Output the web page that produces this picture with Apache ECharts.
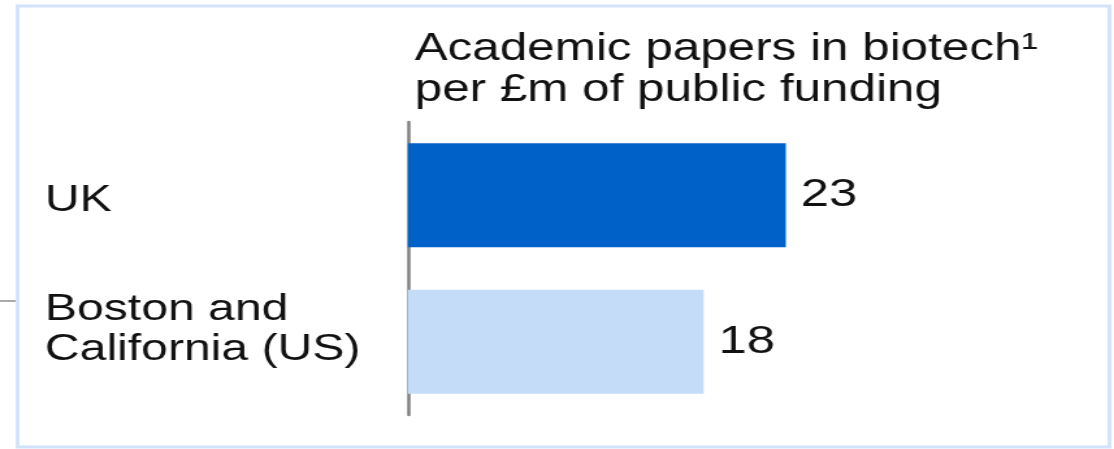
<!DOCTYPE html>
<html>
<head>
<meta charset="utf-8">
<script src="https://cdn.jsdelivr.net/npm/echarts@6/dist/echarts.min.js"></script>
<style>
html,body{margin:0;padding:0;background:#fff;overflow:hidden;}
#wrap{width:1114px;height:449px;overflow:hidden;}
#chart{width:857px;height:449px;transform:scaleX(1.2999);transform-origin:0 0;}
</style>
</head>
<body>
<div id="wrap"><div id="chart"></div></div>
<script>
const categories = ['UK', 'Boston and\nCalifornia (US)'];
const values = [23, 18];
const barColors = ['#0061c9', '#c4dcf8'];
const titleLines = ['Academic papers in biotech\u00b9', 'per \u00a3m of public funding'];

const chart = echarts.init(document.getElementById('chart'));
const FONT = '"Liberation Sans", Arial, sans-serif';
const labelStyle = { align: 'left', fontFamily: FONT, fontSize: 37, color: '#111', lineHeight: 40 };
chart.setOption({
  animation: false,
  backgroundColor: '#ffffff',
  title: {
    text: titleLines.join('\n'),
    left: 319,
    top: 29,
    padding: 0,
    textStyle: { fontFamily: FONT, fontSize: 38, fontWeight: 'normal', color: '#111', lineHeight: 41 }
  },
  graphic: [
    { type: 'rect', shape: { x: 13.5, y: 6, width: 840, height: 441 },
      style: { fill: 'none', stroke: '#d2e3fb', lineWidth: 3 }, z: -1 },
    { type: 'line', shape: { x1: 0, y1: 301, x2: 12, y2: 301 },
      style: { stroke: '#8c8c8c', lineWidth: 1.5 } }
  ],
  grid: { left: 313.8, top: 122, height: 293, right: 37.6, containLabel: false, outerBoundsMode: 'none' },
  xAxis: { type: 'value', min: 0, max: 40, show: false, splitLine: { show: false } },
  yAxis: {
    type: 'category',
    inverse: true,
    data: categories.map(c => ({ value: c, textStyle: Object.assign({}, labelStyle) })),
    axisLine: { show: true, lineStyle: { color: '#808080', width: 2.5 } },
    axisTick: { show: false },
    axisLabel: Object.assign({
      margin: 279.2,
      formatter: (v, i) => i === 0 ? '{a| }\n' + v : v + '\n{b| }',
      rich: {
        a: { lineHeight: 12, fontSize: 10, fontFamily: FONT },
        b: { lineHeight: 24, fontSize: 10, fontFamily: FONT }
      }
    }, labelStyle)
  },
  series: [{
    type: 'bar',
    barWidth: 104,
    data: values.map((v, i) => ({ value: v, itemStyle: { color: barColors[i] } })),
    label: { show: true, position: 'right', distance: 11.5, fontFamily: FONT, fontSize: 39, color: '#111' }
  }]
});
</script>
</body>
</html>
